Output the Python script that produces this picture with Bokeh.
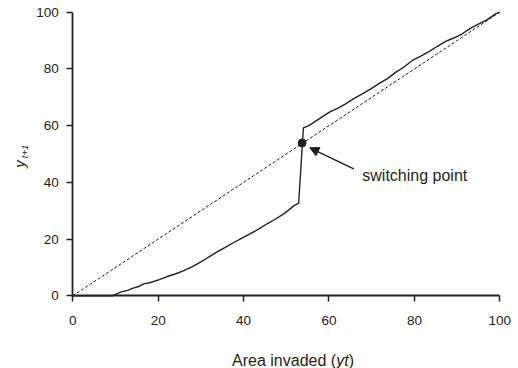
import math
from bokeh.plotting import figure
from bokeh.models import Range1d, Label, Arrow, NormalHead, FixedTicker
from bokeh.embed import file_html
from bokeh.resources import INLINE

# ---- data ----
curve_x = [0, 9.2, 11.2, 13.0, 14.3, 15.5, 16.6, 18.0, 20.1, 22.1, 24.0, 26.0, 28.0,
           29.9, 31.0, 32.2, 33.8, 35.7, 37.7, 39.6, 41.6, 43.5, 45.5, 47.4, 49.4,
           50.6, 51.8, 52.9, 54.0, 55.3, 57.5, 60.0, 62.0, 63.9, 65.9, 67.8, 69.7,
           71.7, 73.7, 75.6, 77.5, 79.5, 81.4, 83.4, 85.3, 87.3, 89.2, 91.2, 93.1,
           95.1, 97.0, 99.0, 100]
curve_y = [0, 0, 1.3, 2.0, 2.8, 3.3, 4.2, 4.6, 5.6, 6.8, 7.7, 8.9, 10.3,
           11.9, 12.9, 14.0, 15.5, 17.1, 18.8, 20.3, 21.9, 23.5, 25.4, 27.0, 28.9,
           30.3, 31.8, 32.7, 59.2, 60.0, 62.2, 64.7, 66.1, 67.7, 69.6, 71.2, 72.9,
           74.8, 76.6, 78.8, 80.6, 83.0, 84.4, 86.1, 87.9, 89.7, 90.9, 92.4, 94.3,
           95.9, 97.3, 99.4, 100]
diag_x = [0, 100]
diag_y = [0, 100]
switch_x = [53.7]
switch_y = [53.9]
switch_label = "switching point"
arrow_from = (65.8, 44.8)
arrow_to = (55.5, 52.2)
ticks = [0, 20, 40, 60, 80, 100]

INK = "#231f20"
FONT = "Liberation Sans"

p = figure(width=518, height=368, output_backend="svg", toolbar_location=None,
           x_range=Range1d(-16.93, 104.38), y_range=Range1d(-25.63, 104.13),
           min_border_left=0, min_border_right=0, min_border_top=0,
           min_border_bottom=0)
p.outline_line_color = None
p.xgrid.visible = False
p.ygrid.visible = False
p.background_fill_color = "white"
p.border_fill_color = "white"

for ax in (p.xaxis[0], p.yaxis[0]):
    ax.fixed_location = 0
    ax.bounds = (0, 100)
    ax.ticker = FixedTicker(ticks=ticks)
    ax.minor_tick_line_color = None
    ax.major_tick_in = 0
    ax.major_tick_out = 6
    ax.major_tick_line_color = INK
    ax.major_tick_line_width = 1.5
    ax.axis_line_color = INK
    ax.axis_line_width = 1.8
    ax.major_label_text_font = FONT
    ax.major_label_text_font_size = "13.5px"
    ax.major_label_text_color = INK
p.xaxis[0].major_label_standoff = 14
p.yaxis[0].major_label_standoff = 8

# lines
p.line(diag_x, diag_y, line_color=INK, line_width=1, line_dash="3 2")
p.line(curve_x, curve_y, line_color=INK, line_width=1.4)
p.scatter(switch_x, switch_y, size=8, color=INK)

p.add_layout(Arrow(end=NormalHead(size=9, fill_color=INK, line_color=INK),
                   x_start=arrow_from[0], y_start=arrow_from[1],
                   x_end=arrow_to[0], y_end=arrow_to[1],
                   line_color=INK, line_width=1.4))
p.add_layout(Label(x=67.8, y=42.4, text=switch_label, text_font=FONT,
                   text_font_size="16px", text_color=INK,
                   text_align="left", text_baseline="middle"))

# x axis label with italic part
lab_y = -22.9
p.add_layout(Label(x=37.3, y=lab_y, text="Area invaded (", text_font=FONT,
                   text_font_size="16px", text_color=INK,
                   text_align="left", text_baseline="alphabetic"))
p.add_layout(Label(x=61.7, y=lab_y, text="yt", text_font=FONT,
                   text_font_size="16px", text_font_style="italic", text_color=INK,
                   text_align="left", text_baseline="alphabetic"))
p.add_layout(Label(x=64.6, y=lab_y, text=")", text_font=FONT,
                   text_font_size="16px", text_color=INK,
                   text_align="left", text_baseline="alphabetic"))

# y axis label y_{t+1}
p.add_layout(Label(x=-12.4, y=46.5, text="y", text_font=FONT,
                   text_font_size="15px", text_font_style="italic", text_color=INK,
                   angle=math.pi / 2, text_align="center", text_baseline="alphabetic"))
p.add_layout(Label(x=-11.4, y=50.9, text="t+1", text_font=FONT,
                   text_font_size="9.5px", text_font_style="italic", text_color=INK,
                   angle=math.pi / 2, text_align="center", text_baseline="alphabetic"))

open("out.html", "w").write(file_html(p, INLINE))
